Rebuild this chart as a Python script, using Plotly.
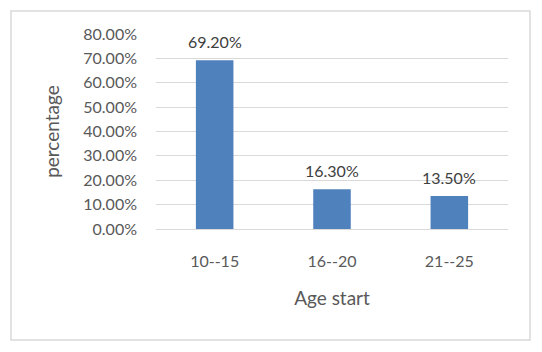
import plotly.graph_objects as go

categories = ["10--15", "16--20", "21--25"]
values = [0.692, 0.163, 0.135]
labels = ["69.20%", "16.30%", "13.50%"]

OFF = 8  # page body margin
Wscr, Hscr = 542, 352
W, H = Wscr - OFF, Hscr - OFF
L, R, T, B = 156 - OFF, Wscr - 508, 34 - OFF, Hscr - 229
pw, ph = W - L - R, H - T - B

fig = go.Figure()
fig.add_trace(go.Bar(
    x=categories, y=values, width=0.32,
    marker=dict(color="#4F81BD", line=dict(width=0)),
    hoverinfo="skip",
))

for c, v, t in zip(categories, values, labels):
    fig.add_annotation(x=c, y=v, text=t, showarrow=False, yanchor="bottom",
                       yshift=7, font=dict(family="Lato", size=16, color="#404040"))

def px_x(p):
    return (p - OFF - L) / pw

def px_y(p):
    return (H - B - (p - OFF)) / ph

fig.add_shape(type="rect", xref="paper", yref="paper",
              x0=px_x(11), x1=px_x(530), y0=px_y(340), y1=px_y(11),
              line=dict(color="#D9D9D9", width=1.5), layer="below")

fig.update_layout(
    width=W, height=H,
    margin=dict(l=L, r=R, t=T, b=B),
    paper_bgcolor="white", plot_bgcolor="white",
    font=dict(family="Lato", size=16, color="#595959"),
    showlegend=False,
    bargap=0.68,
    xaxis=dict(
        showgrid=False, showline=False, zeroline=False, ticks="",
        tickfont=dict(size=16, color="#595959"),
        ticklabelstandoff=21,
        title=dict(text="Age start", font=dict(size=19, color="#595959"), standoff=22),
    ),
    yaxis=dict(
        range=[0, 0.8], dtick=0.1, tickformat=".2%",
        showgrid=True, gridcolor="#D9D9D9", gridwidth=1,
        zeroline=True, zerolinecolor="#D9D9D9", zerolinewidth=1,
        showline=False, ticks="",
        tickfont=dict(size=16, color="#595959"),
        ticklabelstandoff=18,
        title=dict(text="percentage", font=dict(size=19, color="#595959"), standoff=18),
    ),
)

fig.write_html("out.html")
